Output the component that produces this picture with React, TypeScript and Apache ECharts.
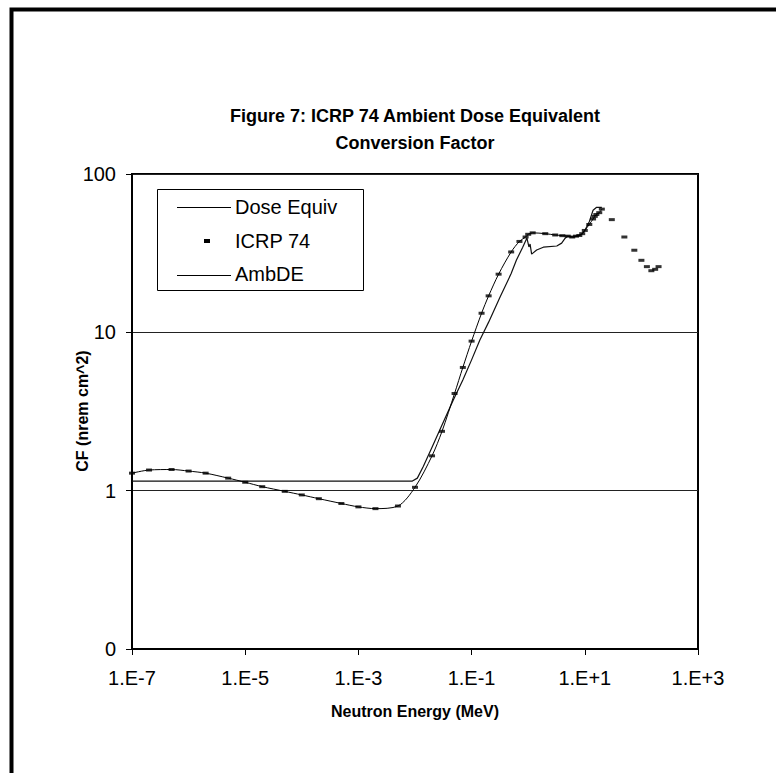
import React, { useEffect, useRef } from "react";
import * as echarts from "echarts";

// ICRP 74 ambient dose equivalent conversion factors (nrem cm^2)
const icrpE = [1e-7, 2e-7, 5e-7, 1e-6, 2e-6, 5e-6, 1e-5, 2e-5, 5e-5, 1e-4, 2e-4, 5e-4, 1e-3, 2e-3, 5e-3, 1e-2, 2e-2, 3e-2, 5e-2, 7e-2, 0.1, 0.15, 0.2, 0.3, 0.5, 0.7, 0.9, 1, 1.2, 2, 3, 4, 5, 6, 7, 8, 9, 10, 12, 14, 15, 16, 18, 20, 30, 50, 75, 100, 125, 150, 175, 201];
const icrpV = [1.29, 1.35, 1.36, 1.33, 1.29, 1.2, 1.13, 1.06, 0.99, 0.94, 0.89, 0.83, 0.79, 0.77, 0.8, 1.05, 1.66, 2.37, 4.11, 6.0, 8.8, 13.2, 17.0, 23.3, 32.2, 37.5, 40.0, 41.6, 42.5, 42.0, 41.2, 40.8, 40.5, 40.0, 40.5, 40.9, 42.0, 44.0, 48.0, 52.0, 54.0, 55.5, 57.0, 60.0, 51.5, 40.0, 33.0, 28.5, 26.0, 24.5, 25.0, 26.0];

// AmbDE fitted curve
const ambE = [1e-7, 2e-7, 5e-7, 1e-6, 2e-6, 5e-6, 1e-5, 2e-5, 5e-5, 1e-4, 2e-4, 5e-4, 1e-3, 2e-3, 5e-3, 1e-2, 2e-2, 3e-2, 5e-2, 7e-2, 0.1, 0.15, 0.2, 0.3, 0.5, 0.7, 0.9, 1, 1.2, 2, 3, 4, 5, 6, 7, 8, 9, 10, 12, 14, 15, 16, 18, 20];
const ambV = [1.29, 1.35, 1.36, 1.33, 1.29, 1.2, 1.13, 1.06, 0.99, 0.94, 0.89, 0.83, 0.79, 0.77, 0.8, 1.05, 1.66, 2.37, 4.11, 6.0, 8.8, 13.2, 17.0, 23.3, 32.2, 37.5, 40.0, 41.6, 42.5, 42.0, 41.2, 40.8, 40.5, 40.0, 40.5, 40.9, 42.0, 44.0, 48.0, 52.0, 54.0, 55.5, 57.0, 60.0];

// Dose Equiv curve
const doseE = [1e-7, 1e-6, 1e-5, 1e-4, 1e-3, 9e-3, 0.011, 0.014, 0.02, 0.03, 0.0475, 0.07, 0.1, 0.14, 0.2, 0.32, 0.5, 0.62, 0.8, 0.95, 1.03, 1.08, 1.15, 1.41, 1.85, 3.2, 3.9, 4.5, 5, 6, 7, 8, 9, 10, 12, 14, 16, 20];
const doseV = [1.15, 1.15, 1.15, 1.15, 1.15, 1.15, 1.2, 1.42, 1.88, 2.6, 3.74, 5.0, 6.7, 8.95, 11.6, 16.8, 23.5, 28.6, 34.5, 39.4, 34.6, 36.1, 31.2, 33.1, 34.5, 35.1, 36.6, 39.3, 40.5, 40.0, 40.5, 40.9, 42.0, 44.0, 50.0, 59.0, 61.5, 61.5];

const titleLines = ["Figure 7: ICRP 74 Ambient Dose Equivalent", "Conversion Factor"];
const xTitle = "Neutron Energy (MeV)";
const yTitle = "CF (nrem cm^2)";
const legendNames = ["Dose Equiv", "ICRP 74", "AmbDE"];

const FONT = "'Liberation Sans', Arial, Helvetica, sans-serif";

function pairs(xs: number[], ys: number[]) {
  return xs.map((x, i) => [x, ys[i]]);
}

function txt(x: number, y: number, text: string, font: string, align = "center", extra: any = {}) {
  return {
    type: "text",
    x,
    y,
    z: 100,
    ...extra,
    style: {
      text,
      font,
      fill: "#000",
      align,
      verticalAlign: "middle",
      textAlign: align,
      textVerticalAlign: "middle",
    },
  };
}

export default function App() {
  const ref = useRef<HTMLDivElement>(null);
  useEffect(() => {
    const chart = echarts.init(ref.current!, null, { renderer: "svg" });
    const expLabel = (v: number) => {
      const e = Math.round(Math.log10(v));
      return "1.E" + (e >= 0 ? "+" : "-") + Math.abs(e);
    };
    chart.setOption({
      animation: false,
      backgroundColor: "#fff",
      grid: {
        left: 132,
        right: 78,
        top: 174,
        bottom: 124,
        show: true,
        borderColor: "#000",
        borderWidth: 2,
        containLabel: false,
      },
      xAxis: {
        type: "log",
        logBase: 10,
        min: 1e-7,
        max: 1e3,
        interval: 2,
        axisLine: { show: true, onZero: false, lineStyle: { color: "#000", width: 2 } },
        axisTick: { show: true, length: 6, lineStyle: { color: "#000", width: 1 } },
        axisLabel: { formatter: expLabel, color: "#000", fontFamily: FONT, fontSize: 20, margin: 19 },
        splitLine: { show: false },
        minorTick: { show: false },
      },
      yAxis: {
        type: "log",
        logBase: 10,
        min: 0.1,
        max: 100,
        interval: 1,
        axisLine: { show: true, onZero: false, lineStyle: { color: "#000", width: 2 } },
        axisTick: { show: true, length: 6, lineStyle: { color: "#000", width: 1 } },
        axisLabel: {
          formatter: (v: number) => (v < 0.5 ? "0" : String(Math.round(v))),
          color: "#000",
          fontFamily: FONT,
          fontSize: 20,
          margin: 16,
        },
        splitLine: { show: true, lineStyle: { color: "#222", width: 1 } },
        minorTick: { show: false },
      },
      series: [
        {
          name: legendNames[0],
          type: "line",
          data: pairs(doseE, doseV),
          showSymbol: false,
          symbol: "none",
          lineStyle: { color: "#111", width: 1.2 },
          z: 3,
        },
        {
          name: legendNames[1],
          type: "scatter",
          data: pairs(icrpE, icrpV),
          symbol: "rect",
          symbolSize: [6, 3],
          itemStyle: { color: "#000" },
          z: 4,
        },
        {
          name: legendNames[2],
          type: "line",
          data: pairs(ambE, ambV),
          showSymbol: false,
          symbol: "none",
          smooth: 0.3,
          lineStyle: { color: "#000", width: 1 },
          z: 3,
        },
      ],
      graphic: [
        {
          type: "rect",
          z: 100,
          shape: { x: 11.5, y: 9.5, width: 900, height: 900 },
          style: { fill: "none", stroke: "#000", lineWidth: 4 },
        },
        txt(415, 116, titleLines[0], `bold 18px ${FONT}`),
        txt(415, 143, titleLines[1], `bold 18px ${FONT}`),
        txt(415, 711, xTitle, `bold 16px ${FONT}`),
        txt(82, 411, yTitle, `bold 16px ${FONT}`, "center", { rotation: Math.PI / 2 }),
        {
          type: "rect",
          z: 100,
          shape: { x: 157.5, y: 189.5, width: 206, height: 101 },
          style: { fill: "#fff", stroke: "#000", lineWidth: 1 },
        },
        {
          type: "line",
          z: 101,
          shape: { x1: 177, y1: 207.5, x2: 231, y2: 207.5 },
          style: { stroke: "#000", lineWidth: 1 },
        },
        {
          type: "rect",
          z: 101,
          shape: { x: 204, y: 239, width: 6, height: 4 },
          style: { fill: "#000" },
        },
        {
          type: "line",
          z: 101,
          shape: { x1: 177, y1: 275.5, x2: 231, y2: 275.5 },
          style: { stroke: "#000", lineWidth: 1 },
        },
        txt(235, 207, legendNames[0], `20px ${FONT}`, "left", { z: 101 }),
        txt(235, 241, legendNames[1], `20px ${FONT}`, "left", { z: 101 }),
        txt(235, 274, legendNames[2], `20px ${FONT}`, "left", { z: 101 }),
      ],
    });
    return () => chart.dispose();
  }, []);
  return (
    <div
      ref={ref}
      style={{ position: "fixed", left: 0, top: 0, width: 776, height: 773, background: "#fff" }}
    />
  );
}
